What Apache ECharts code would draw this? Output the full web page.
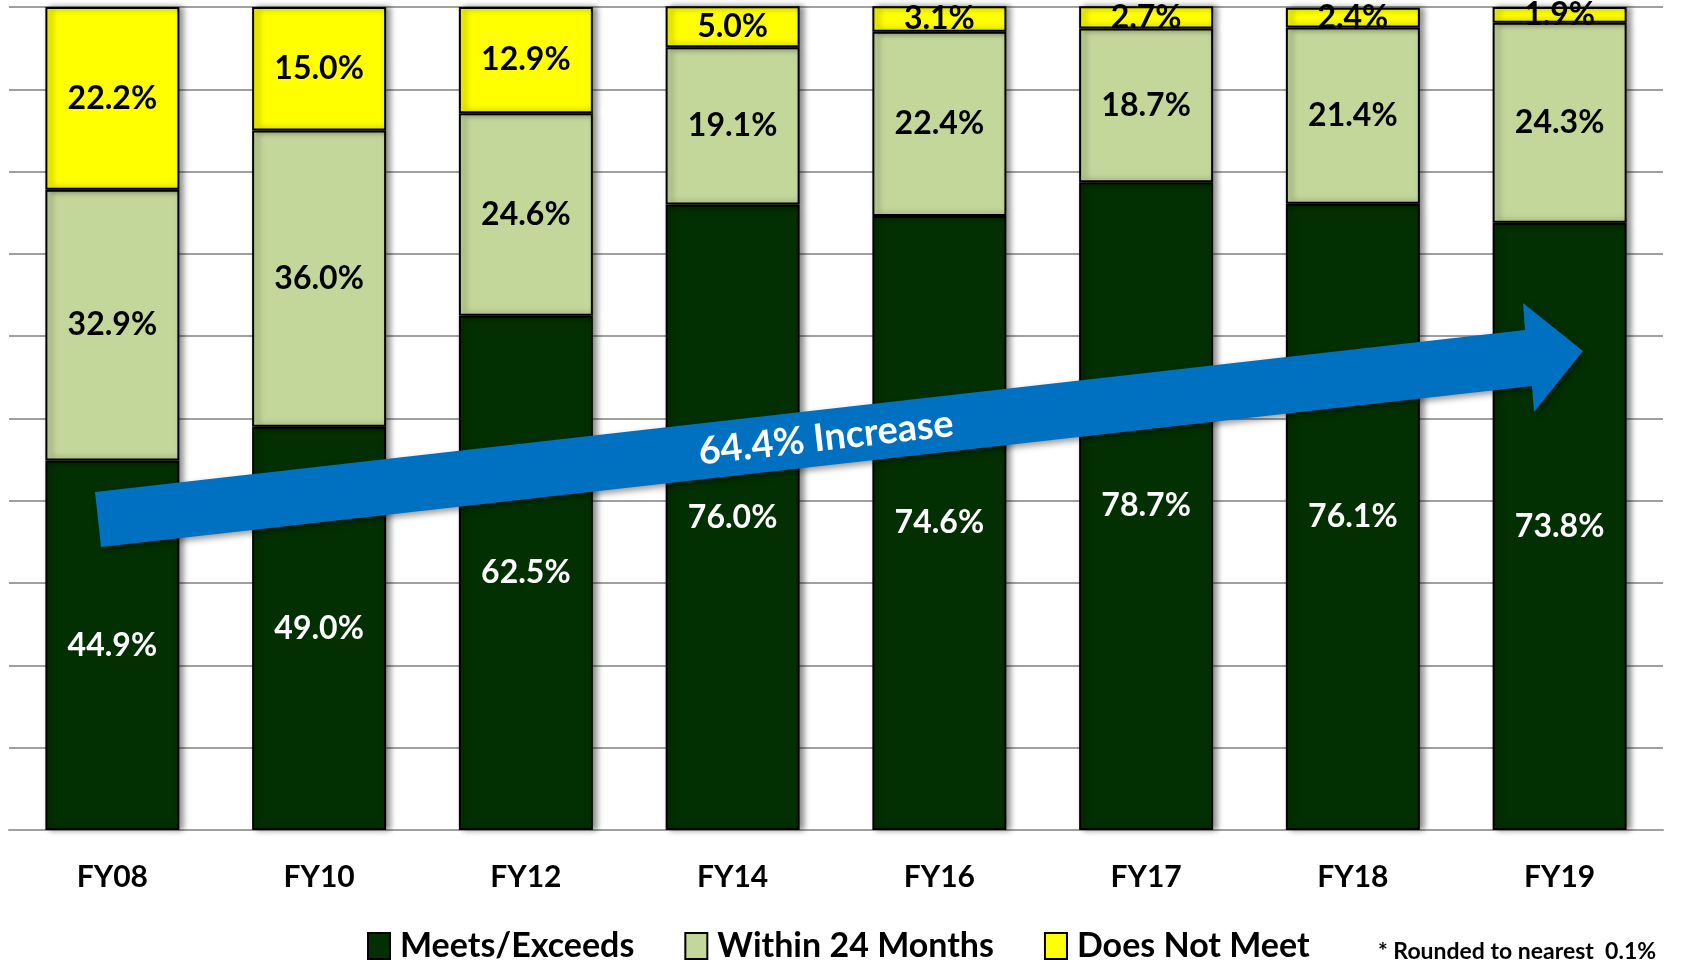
<!DOCTYPE html>
<html>
<head>
<meta charset="utf-8">
<script src="https://cdn.jsdelivr.net/npm/echarts@6/dist/echarts.min.js"></script>
<style>
  html, body { margin: 0; padding: 0; background: #fff; }
  #chart { width: 1702px; height: 963px; }
</style>
</head>
<body>
<div id="chart"></div>
<script>
var years = ['FY08', 'FY10', 'FY12', 'FY14', 'FY16', 'FY17', 'FY18', 'FY19'];
var meets = [44.9, 49.0, 62.5, 76.0, 74.6, 78.7, 76.1, 73.8];
var within24 = [32.9, 36.0, 24.6, 19.1, 22.4, 18.7, 21.4, 24.3];
var notMeet = [22.2, 15.0, 12.9, 5.0, 3.1, 2.7, 2.4, 1.9];
var arrowText = '64.4% Increase';
var footNote = '* Rounded to nearest  0.1%';

var font = 'Lato, "Open Sans", sans-serif';

function seg(name, data, color, labelColor) {
  return {
    name: name,
    type: 'bar',
    stack: 'all',
    barWidth: 134,
    data: data,
    itemStyle: {
      color: color,
      borderColor: '#000',
      borderWidth: 2,
      shadowColor: 'rgba(0,0,0,0.45)',
      shadowBlur: 6,
      shadowOffsetX: 4
    },
    label: {
      show: true,
      position: 'inside',
      color: labelColor,
      fontFamily: font,
      fontWeight: 'bold',
      fontSize: 32,
      formatter: function (p) { return p.value.toFixed(1) + '%'; }
    }
  };
}

var chart = echarts.init(document.getElementById('chart'));
var option = {
  animation: false,
  grid: { left: 9, right: 39, top: 7, bottom: 133 },
  legend: {
    left: 362,
    top: 924,
    icon: 'rect',
    itemGap: 50,
    itemWidth: 22,
    itemHeight: 26,
    itemStyle: { borderColor: '#000', borderWidth: 2, shadowBlur: 0, shadowOffsetX: 0 },
    textStyle: { fontFamily: font, fontWeight: 'bold', fontSize: 34, color: '#000', padding: [0, 0, 0, 5] },
    data: ['Meets/Exceeds', 'Within 24 Months', 'Does Not Meet']
  },
  xAxis: {
    type: 'category',
    data: years,
    axisLine: { lineStyle: { color: '#a0a0a0', width: 2 } },
    axisTick: { show: false },
    axisLabel: { margin: 32, color: '#000', fontFamily: font, fontWeight: 'bold', fontSize: 30 }
  },
  yAxis: {
    type: 'value',
    min: 0,
    max: 100,
    interval: 10,
    axisLabel: { show: false },
    axisLine: { show: false },
    axisTick: { show: false },
    splitLine: { lineStyle: { color: '#a0a0a0', width: 2 } }
  },
  series: [
    seg('Meets/Exceeds', meets, '#033003', '#fff'),
    seg('Within 24 Months', within24, '#c4d79b', '#000'),
    seg('Does Not Meet', notMeet, '#ffff00', '#000')
  ],
  graphic: [
    {
      type: 'polygon',
      z: 100,
      shape: {
        points: [[95, 492], [1525, 330], [1523, 303], [1583, 351], [1534, 412], [1532, 386], [101, 547]]
      },
      style: {
        fill: '#0070c0',
        shadowColor: 'rgba(0,0,0,0.4)',
        shadowBlur: 6,
        shadowOffsetX: 3,
        shadowOffsetY: 3
      }
    },
    {
      type: 'text',
      z: 101,
      x: 826,
      y: 438,
      rotation: 0.1128,
      style: {
        text: arrowText,
        fill: '#fff',
        font: 'bold 38px ' + font,
        textAlign: 'center',
        textVerticalAlign: 'middle'
      }
    },
    {
      type: 'text',
      left: 1378,
      top: 940,
      style: {
        text: footNote,
        fill: '#000',
        font: 'bold 23px ' + font
      }
    }
  ]
};
chart.setOption(option);
</script>
</body>
</html>
